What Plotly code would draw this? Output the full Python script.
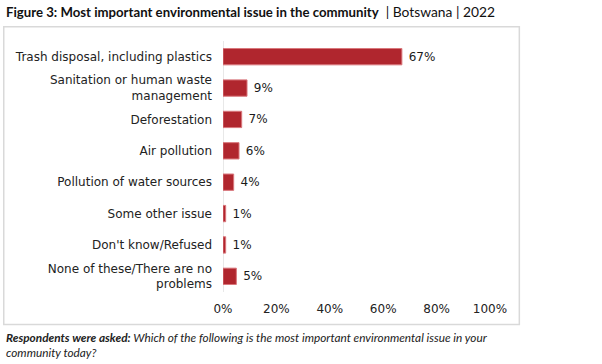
import plotly.graph_objects as go

categories = [
    "Trash disposal, including plastics",
    "Sanitation or human waste<br>management",
    "Deforestation",
    "Air pollution",
    "Pollution of water sources",
    "Some other issue",
    "Don't know/Refused",
    "None of these/There are no<br>problems",
]
values = [67, 9, 7, 6, 4, 1, 1, 5]
value_labels = ["67%", "9%", "7%", "6%", "4%", "1%", "1%", "5%"]
tick_vals = [0, 20, 40, 60, 80, 100]
tick_text = ["0%", "20%", "40%", "60%", "80%", "100%"]

W, H = 602, 364
L, R, T, B = 223, 112.3, 41.3, 72.3
pw = W - L - R
ph = H - T - B

def px(x):
    return (x - L) / pw

def py(y):
    return 1 - (y - T) / ph

FONT = "DejaVu Sans"
fig = go.Figure(
    go.Bar(
        x=values,
        y=categories,
        orientation="h",
        marker=dict(color="#B0262E", line=dict(color="#D9777C", width=1)),
        text=value_labels,
        texttemplate="\u00a0%{text}",
        textposition="outside",
        textfont=dict(size=12, color="#1a1a1a", family=FONT),
        cliponaxis=False,
        width=0.52,
    )
)

fig.update_layout(
    width=W,
    height=H,
    margin=dict(l=L, r=R, t=T, b=B, pad=0),
    paper_bgcolor="white",
    plot_bgcolor="white",
    showlegend=False,
    font=dict(family=FONT, size=12, color="#222222"),
    xaxis=dict(
        range=[0, 100],
        tickvals=tick_vals,
        ticktext=tick_text,
        showgrid=False,
        zeroline=False,
        showline=False,
        ticks="",
        ticklabelstandoff=8,
        tickfont=dict(size=12, color="#222222"),
        fixedrange=True,
    ),
    yaxis=dict(
        autorange="reversed",
        showgrid=False,
        zeroline=False,
        showline=False,
        ticks="",
        ticklabelstandoff=10,
        tickfont=dict(size=12, color="#222222"),
        fixedrange=True,
    ),
    shapes=[
        dict(type="rect", xref="paper", yref="paper",
             x0=px(4), x1=px(519), y0=py(324), y1=py(27),
             line=dict(color="#D9D9D9", width=1.5), fillcolor="rgba(0,0,0,0)", layer="below"),
        dict(type="line", xref="x", yref="paper", x0=0, x1=0, y0=0, y1=1,
             line=dict(color="#D9D9D9", width=1.2), layer="below"),
    ],
    annotations=[
        dict(xref="paper", yref="paper", x=px(4), y=py(12), xanchor="left", yanchor="middle",
             showarrow=False,
             text="<b>Figure 3: Most important environmental issue in the community</b>"
                  "<span style='font-size:13.8px'>  | Botswana | 2022</span>",
             font=dict(size=13.2, color="#111111", family="Lato")),
        dict(xref="paper", yref="paper", x=px(4), y=py(344.5), xanchor="left", yanchor="middle",
             showarrow=False, align="left",
             text="<b><i>Respondents were asked:</i></b><i> Which of the following is the most important environmental issue in your<br>community today?</i>",
             font=dict(size=11.8, color="#222222", family="Lato")),
    ],
)

fig.write_html(
    "out.html",
    config={"displayModeBar": False},
    post_script="document.body.style.margin='0';document.body.style.padding='0';",
)
